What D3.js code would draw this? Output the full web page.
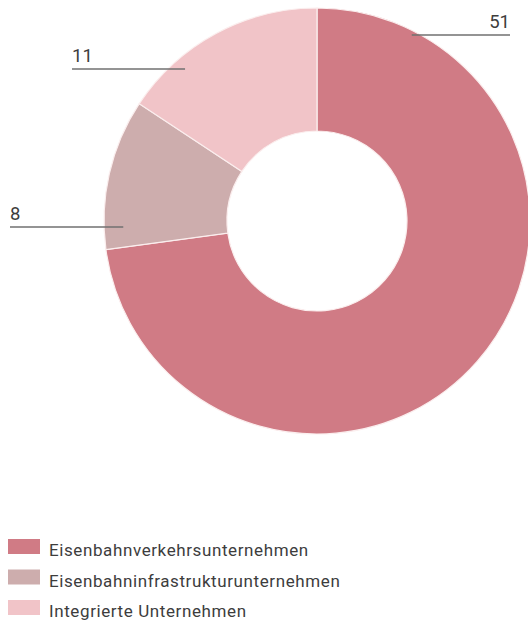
<!DOCTYPE html>
<html>
<head>
<meta charset="utf-8">
<script src="https://cdn.jsdelivr.net/npm/d3@7"></script>
<style>
  html, body { margin: 0; padding: 0; background: #fff; }
  svg { display: block; }
  text { font-family: Roboto, "Noto Sans", sans-serif; fill: #3d3d3d; }
</style>
</head>
<body>
<svg id="chart" width="528" height="627"></svg>
<script>
// Unternehmensarten und ihre Anzahl
const categories = ["Eisenbahnverkehrsunternehmen", "Eisenbahninfrastrukturunternehmen", "Integrierte Unternehmen"];
const values = [51, 8, 11];
const colors = ["#d07b85", "#cdadad", "#f1c4c8"];

const svg = d3.select("#chart");
const cx = 317, cy = 221, outerR = 213, innerR = 90;

const pie = d3.pie().sort(null).value(d => d.value);
const arcs = pie(categories.map((c, i) => ({ name: c, value: values[i], color: colors[i] })));
const arc = d3.arc().innerRadius(innerR).outerRadius(outerR);

const g = svg.append("g").attr("transform", `translate(${cx},${cy})`);
g.selectAll("path").data(arcs).join("path")
  .attr("d", arc)
  .attr("fill", d => d.data.color)
  .attr("stroke", "#fbeeee")
  .attr("stroke-width", 1.2);

// Beschriftungen mit Führungslinien
const labelSpec = [
  { anchor: "end", r: 0.98, textX: 510, lineY: 35 },
  { anchor: "start", r: 0.91, textX: 10, lineY: 227 },
  { anchor: "start", r: 0.945, textX: 72, lineY: 69 }
];
arcs.forEach((a, i) => {
  const s = labelSpec[i];
  const mid = (a.startAngle + a.endAngle) / 2;
  // Ankerpunkt im Segment, auf Höhe der Beschriftung
  const dy = s.lineY - cy;
  const px = cx + Math.sign(Math.sin(mid)) * Math.sqrt(Math.max(0, (outerR * s.r) ** 2 - dy * dy));
  svg.append("line")
    .attr("x1", s.textX).attr("x2", px)
    .attr("y1", s.lineY).attr("y2", s.lineY)
    .attr("stroke", "#707070").attr("stroke-width", 1.4);
  svg.append("text")
    .attr("x", s.textX).attr("y", s.lineY - 7)
    .attr("text-anchor", s.anchor)
    .attr("font-size", 18.5)
    .text(a.data.value);
});

// Legende
const legend = svg.append("g").attr("transform", "translate(8,539)");
const item = legend.selectAll("g").data(categories).join("g")
  .attr("transform", (d, i) => `translate(0,${i * 30.5})`);
item.append("rect").attr("width", 32).attr("height", 15).attr("fill", (d, i) => colors[i]);
item.append("text").attr("x", 41).attr("y", 17).attr("font-size", 17)
  .attr("letter-spacing", 0.6).text(d => d);
</script>
</body>
</html>
